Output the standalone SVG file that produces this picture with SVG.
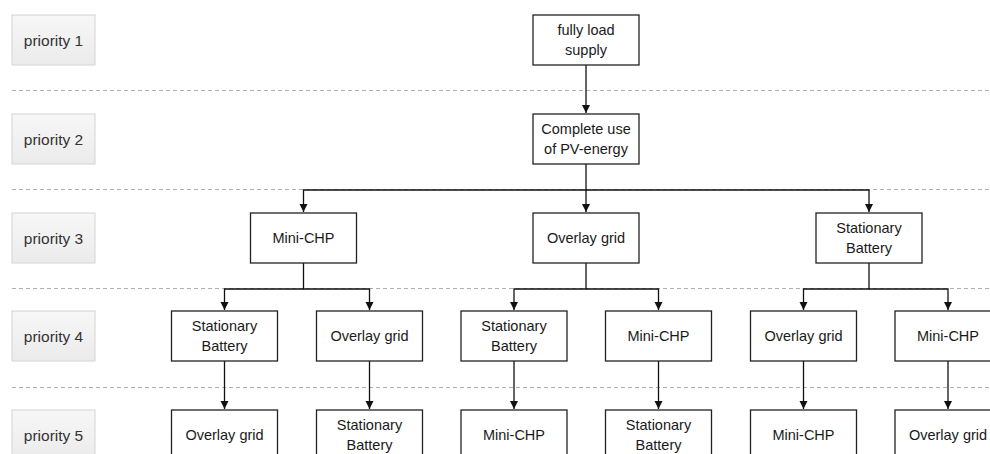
<svg xmlns="http://www.w3.org/2000/svg" width="990" height="454" viewBox="0 0 990 454">
<style>
  .lbl rect { fill: url(#lg); stroke: #d4d4d4; stroke-width: 1; }
  .lbl text { font-family: "Liberation Sans", Arial, sans-serif; font-size: 15.5px; fill: #333; text-anchor: middle; }
  .node rect { fill: #fff; stroke: #222; stroke-width: 1.3; }
  .node text { font-family: "Liberation Sans", Arial, sans-serif; font-size: 14.5px; fill: #1a1a1a; text-anchor: middle; }
  .sep { stroke: #b0b0b0; stroke-width: 1; stroke-dasharray: 4 3; fill: none; }
  .conn path { stroke: #111; stroke-width: 1.3; fill: none; marker-end: url(#ah); }
</style>
<defs>
  <linearGradient id="lg" x1="0" y1="0" x2="0" y2="1">
    <stop offset="0" stop-color="#f7f7f7"/>
    <stop offset="1" stop-color="#ebebeb"/>
  </linearGradient>
  <marker id="ah" markerUnits="userSpaceOnUse" markerWidth="9" markerHeight="9" refX="8" refY="4" orient="auto">
    <path d="M0,0 L8,4 L0,8 z" fill="#111"/>
  </marker>
</defs>
<rect width="990" height="454" fill="#fff"/>

<g id="separators">
  <line class="sep" x1="12" y1="90.5" x2="990" y2="90.5"/>
  <line class="sep" x1="12" y1="189.5" x2="990" y2="189.5"/>
  <line class="sep" x1="12" y1="288.5" x2="990" y2="288.5"/>
  <line class="sep" x1="12" y1="387.5" x2="990" y2="387.5"/>
</g>

<g id="priority1" class="lbl"><rect x="12" y="15" width="83" height="50"/><text x="53.5" y="45.5">priority 1</text></g>
<g id="priority2" class="lbl"><rect x="12" y="114" width="83" height="50"/><text x="53.5" y="144.5">priority 2</text></g>
<g id="priority3" class="lbl"><rect x="12" y="213" width="83" height="50"/><text x="53.5" y="243.5">priority 3</text></g>
<g id="priority4" class="lbl"><rect x="12" y="311" width="83" height="50"/><text x="53.5" y="341.5">priority 4</text></g>
<g id="priority5" class="lbl"><rect x="12" y="410" width="83" height="50"/><text x="53.5" y="440.5">priority 5</text></g>

<g id="connectors" class="conn">
  <path d="M586,65 V113"/>
  <path d="M586,164 V190 H303.5 V212"/>
  <path d="M586,190 V212"/>
  <path d="M586,190 H869 V212"/>
  <path d="M303.5,263 V289 H224.5 V310"/>
  <path d="M303.5,289 H369.5 V310"/>
  <path d="M586,263 V289 H514 V310"/>
  <path d="M586,289 H658.5 V310"/>
  <path d="M869,263 V289 H803.5 V310"/>
  <path d="M869,289 H948 V310"/>
  <path d="M224.5,361 V409"/>
  <path d="M369.5,361 V409"/>
  <path d="M514,361 V409"/>
  <path d="M658.5,361 V409"/>
  <path d="M803.5,361 V409"/>
  <path d="M948,361 V409"/>
</g>

<g id="n-fully-load" class="node"><rect x="533" y="15" width="106" height="50"/><text x="586" y="35">fully load</text><text x="586" y="55">supply</text></g>
<g id="n-pv" class="node"><rect x="533" y="114" width="106" height="50"/><text x="586" y="134">Complete use</text><text x="586" y="154">of PV-energy</text></g>

<g id="n3-chp" class="node"><rect x="250.5" y="213" width="106" height="50"/><text x="303.5" y="243">Mini-CHP</text></g>
<g id="n3-grid" class="node"><rect x="533" y="213" width="106" height="50"/><text x="586" y="243">Overlay grid</text></g>
<g id="n3-bat" class="node"><rect x="816" y="213" width="106" height="50"/><text x="869" y="233">Stationary</text><text x="869" y="253">Battery</text></g>

<g id="n4-a" class="node"><rect x="171.5" y="311" width="106" height="50"/><text x="224.5" y="331">Stationary</text><text x="224.5" y="351">Battery</text></g>
<g id="n4-b" class="node"><rect x="316.5" y="311" width="106" height="50"/><text x="369.5" y="341">Overlay grid</text></g>
<g id="n4-c" class="node"><rect x="461" y="311" width="106" height="50"/><text x="514" y="331">Stationary</text><text x="514" y="351">Battery</text></g>
<g id="n4-d" class="node"><rect x="605.5" y="311" width="106" height="50"/><text x="658.5" y="341">Mini-CHP</text></g>
<g id="n4-e" class="node"><rect x="750.5" y="311" width="106" height="50"/><text x="803.5" y="341">Overlay grid</text></g>
<g id="n4-f" class="node"><rect x="895" y="311" width="106" height="50"/><text x="948" y="341">Mini-CHP</text></g>

<g id="n5-a" class="node"><rect x="171.5" y="410" width="106" height="50"/><text x="224.5" y="440">Overlay grid</text></g>
<g id="n5-b" class="node"><rect x="316.5" y="410" width="106" height="50"/><text x="369.5" y="430">Stationary</text><text x="369.5" y="450">Battery</text></g>
<g id="n5-c" class="node"><rect x="461" y="410" width="106" height="50"/><text x="514" y="440">Mini-CHP</text></g>
<g id="n5-d" class="node"><rect x="605.5" y="410" width="106" height="50"/><text x="658.5" y="430">Stationary</text><text x="658.5" y="450">Battery</text></g>
<g id="n5-e" class="node"><rect x="750.5" y="410" width="106" height="50"/><text x="803.5" y="440">Mini-CHP</text></g>
<g id="n5-f" class="node"><rect x="895" y="410" width="106" height="50"/><text x="948" y="440">Overlay grid</text></g>
</svg>
